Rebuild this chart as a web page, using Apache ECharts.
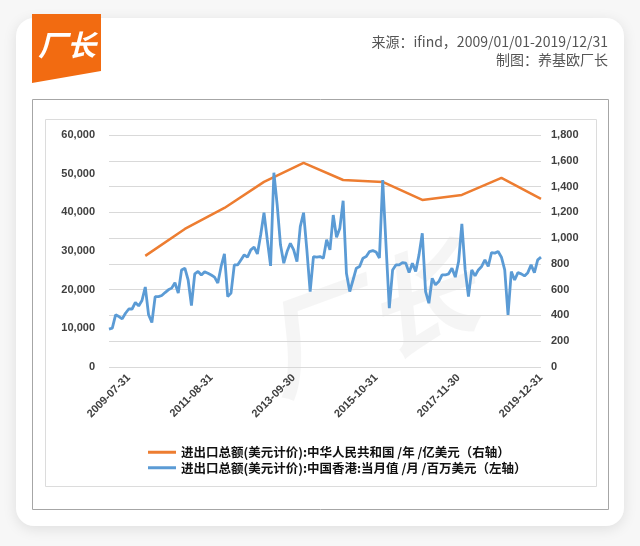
<!DOCTYPE html>
<html>
<head>
<meta charset="utf-8">
<script src="https://cdn.jsdelivr.net/npm/echarts@6/dist/echarts.min.js"></script>
<style>
html,body{margin:0;padding:0;background:#f7f7f7;}
#c{width:640px;height:546px;}
</style>
</head>
<body>
<div id="c"></div>
<script>
// ---- data ----
const startYear = 2009;
const endYear = 2019;
// month-end dates 2009-01-31 ... 2019-12-31
const categories = [];
for (let y = startYear; y <= endYear; y++) {
  for (let m = 1; m <= 12; m++) {
    const d = new Date(Date.UTC(y, m, 0)).getUTCDate();
    categories.push(y + '-' + String(m).padStart(2, '0') + '-' + String(d).padStart(2, '0'));
  }
}
// 中国香港 当月值 (百万美元), monthly 2009-01 .. 2019-12
const hkMonthly = [
  9800, 10050, 13500, 13050, 12450, 13900, 15000, 15000, 16700, 15800, 17200, 20700,
  13500, 11500, 18200, 18200, 18500, 19250, 19950, 20400, 21800, 19100, 25100, 25550,
  22500, 15900, 24100, 24700, 23800, 24600, 24250, 23800, 23250, 21700, 26000, 29250,
  18200, 19100, 26400, 26400, 27700, 29000, 28400, 30300, 31000, 29250, 34200, 39900,
  32900, 26150, 50250, 41900, 31600, 26850, 29850, 32000, 30300, 27250, 36300, 39900,
  30300, 19500, 28550, 28400, 28550, 28150, 32900, 30300, 39300, 33550, 35900, 43000,
  24250, 19500, 22500, 25550, 26000, 28150, 28550, 29850, 30100, 29750, 28200, 48350,
  31600, 15200, 25100, 26400, 26400, 27000, 26850, 24400, 26850, 24700, 29000, 34600,
  19500, 16500, 22950, 21250, 22100, 23800, 23800, 24100, 25550, 23250, 27200, 37000,
  25100, 18200, 25100, 23550, 25100, 26000, 27700, 26000, 29600, 29450, 29850, 28400,
  25100, 13500, 24700, 22500, 24400, 24100, 23550, 24400, 26400, 24400, 27700, 28400
];
// 中华人民共和国 /年 (亿美元), annual values at each December
const cnYears = ['2009', '2010', '2011', '2012', '2013', '2014', '2015', '2016', '2017', '2018', '2019'];
const cnAnnual = [862, 1071, 1234, 1436, 1583, 1451, 1436, 1296, 1335, 1467, 1304];

const nameCN = '进出口总额(美元计价):中华人民共和国 /年 /亿美元（右轴）';
const nameHK = '进出口总额(美元计价):中国香港:当月值 /月 /百万美元（左轴）';

// place annual values on the December category of each year
const cnSeries = categories.map(() => null);
cnYears.forEach((yr, i) => {
  const idx = categories.indexOf(yr + '-12-31');
  if (idx >= 0) cnSeries[idx] = cnAnnual[i];
});

const chart = echarts.init(document.getElementById('c'), null, {renderer: 'canvas'});
const labelFont = {fontFamily: 'Liberation Sans', fontWeight: 'bold', fontSize: 11, color: '#404040'};

chart.setOption({
  backgroundColor: '#f7f7f7',
  animation: false,
  graphic: [
    {type: 'rect', z: -100, shape: {x: 16, y: 18, width: 608, height: 508, r: 18},
      style: {fill: '#ffffff', shadowBlur: 14, shadowColor: 'rgba(0,0,0,0.10)', shadowOffsetY: 3}},
    {type: 'polygon', z: -90, shape: {points: [[32, 14], [101, 14], [101, 71], [32, 83]]},
      style: {fill: '#f26b11'}},
    {type: 'text', z: -80, left: 38, top: 30,
      style: {text: '厂长', fill: '#ffffff', font: 'italic bold 29px "Noto Sans CJK SC"'}},
    {type: 'text', z: -80, right: 32, top: 35,
      style: {text: '来源：ifind，2009/01/01-2019/12/31', fill: '#555555', font: '14px "Noto Sans CJK SC"', textAlign: 'right'}},
    {type: 'text', z: -80, right: 32, top: 53,
      style: {text: '制图：养基欧厂长', fill: '#555555', font: '14px "Noto Sans CJK SC"', textAlign: 'right'}},
    {type: 'rect', z: -90, shape: {x: 32.5, y: 99.5, width: 576, height: 410},
      style: {fill: '#ffffff', stroke: '#a6a6a6', lineWidth: 1}},
    {type: 'rect', z: -85, shape: {x: 45.5, y: 119.5, width: 551, height: 367},
      style: {fill: '#ffffff', stroke: '#dcdcdc', lineWidth: 1}},
    {type: 'text', z: -70, left: 245, top: 230, rotation: 0.35,
      style: {text: '厂长', fill: 'rgba(0,0,0,0.04)', font: 'italic bold 110px "Noto Sans CJK SC"'}}
  ],
  grid: {left: 109, top: 135, width: 432, height: 232, containLabel: false},
  legend: {
    orient: 'vertical', left: 143, top: 441, itemWidth: 28, itemHeight: 3, itemGap: 3,
    icon: 'rect',
    textStyle: {fontFamily: 'Noto Sans CJK SC', fontWeight: 'bold', fontSize: 12.5, color: '#111111'},
    data: [nameCN, nameHK]
  },
  xAxis: {
    type: 'category', data: categories, boundaryGap: false,
    axisLine: {show: false}, axisTick: {show: false},
    axisLabel: Object.assign({}, labelFont, {
      rotate: 45, margin: 9,
      interval: (idx) => idx >= 6 && (idx - 6) % 25 === 0
    }),
    splitLine: {show: false}
  },
  yAxis: [
    {type: 'value', min: 0, max: 60000, interval: 10000, position: 'left',
      axisLine: {show: false}, axisTick: {show: false}, splitLine: {show: false},
      axisLabel: Object.assign({}, labelFont, {margin: 14})},
    {type: 'value', min: 0, max: 1800, interval: 200, position: 'right',
      axisLine: {show: false}, axisTick: {show: false},
      splitLine: {show: true, lineStyle: {color: '#d9d9d9', width: 1}},
      axisLabel: Object.assign({}, labelFont, {margin: 10})}
  ],
  series: [
    {name: nameCN, type: 'line', yAxisIndex: 1, data: cnSeries, connectNulls: true,
      showSymbol: false, symbol: 'none', lineStyle: {color: '#ed7d31', width: 2.5}, itemStyle: {color: '#ed7d31'}, z: 3},
    {name: nameHK, type: 'line', yAxisIndex: 0, data: hkMonthly,
      showSymbol: false, symbol: 'none', lineStyle: {color: '#5b9bd5', width: 2.8}, itemStyle: {color: '#5b9bd5'}, z: 4}
  ]
});
</script>
</body>
</html>
